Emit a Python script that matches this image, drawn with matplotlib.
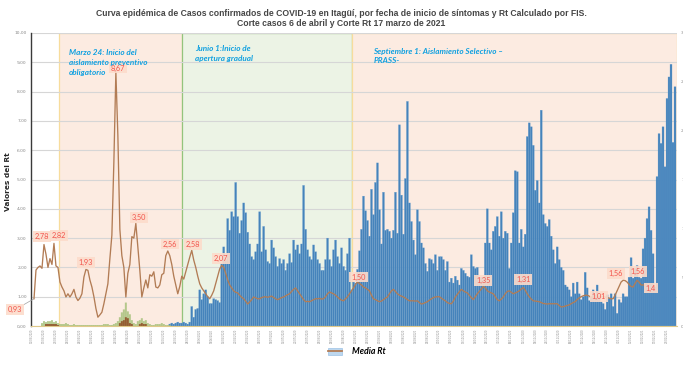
import numpy as np
import matplotlib
matplotlib.use("Agg")
import matplotlib.pyplot as plt
from matplotlib.patches import Patch
from matplotlib.lines import Line2D
from matplotlib.transforms import blended_transform_factory
import pandas as pd

# ---------------- DATA ----------------
fecha_inicio = "2020-03-11"          # day index 0
titulo_1 = ("Curva epidémica de Casos confirmados de COVID-19 en Itagüí, por fecha de inicio "
            "de síntomas y Rt Calculado por FIS.")
titulo_2 = "Corte casos 6 de abril y Corte Rt 17 marzo de 2021"

# phases (day index): Marzo 24, Junio 1, Septiembre 1, end
fase_limites = [13.5, 75, 160, 323]
fase_textos = ["Marzo 24: Inicio del\naislamiento preventivo\nobligatorio",
               "Junio 1:Inicio de\napertura gradual",
               "Septiembre 1: Aislamiento Selectivo –\nPRASS-"]

# daily confirmed cases (blue), starting at day 69
casos_dia0 = 69
casos = [2, 3, 2, 3, 4, 3, 3, 4, 3, 2, 4,
         20, 9, 17, 18, 37, 27, 33, 37, 30, 23,
         23, 28, 27, 26, 24, 64, 81, 68, 110, 98,
         117, 112, 147, 112, 95, 108, 126, 116, 96, 84,
         71, 68, 76, 84, 117, 76, 102, 78, 66, 64,
         88, 80, 71, 61, 69, 64, 68, 57, 64, 74,
         65, 88, 78, 83, 74, 84, 144, 99, 78, 71,
         68, 83, 76, 68, 64, 57, 57, 68, 90, 68,
         61, 78, 88, 71, 64, 80, 61, 57, 74, 90,
         37, 45, 44, 58, 77, 99, 133, 118, 108, 92,
         140, 114, 147, 167, 119, 84, 137, 98, 99, 97,
         90, 98, 137, 95, 206, 134, 94, 151, 230, 126,
         107, 88, 73, 119, 107, 85, 80, 64, 56, 69,
         68, 64, 73, 57, 71, 71, 68, 57, 66, 45,
         49, 44, 51, 47, 42, 59, 57, 54, 51, 50,
         73, 61, 59, 60, 49, 50, 50, 85, 120, 85,
         78, 97, 102, 112, 92, 117, 90, 97, 95, 59,
         85, 116, 159, 158, 85, 99, 81, 94, 194, 208,
         204, 185, 139, 149, 126, 221, 114, 105, 102, 109,
         92, 78, 64, 81, 68, 60, 57, 42, 40, 37,
         30, 44, 33, 45, 33, 27, 30, 55, 39, 26,
         30, 37, 32, 42, 30, 25, 23, 17, 32, 28,
         33, 20, 33, 13, 27, 24, 33, 30, 30, 50,
         70, 49, 59, 62, 50, 49, 79, 90, 110, 122,
         98, 74, 40, 153, 197, 187, 204, 163, 233, 255,
         268, 188, 245]

# early small series (green / brown), starting at day 5 and day 7
verde_dia0 = 5
casos_verde = [3, 5, 4, 5, 5, 6, 4, 5, 3, 2,
               2, 2, 3, 2, 1, 1, 2, 1, 1, 1,
               1, 1, 1, 1, 1, 1, 1, 1, 1, 1,
               1, 2, 2, 2, 1, 1, 2, 3, 5, 9,
               14, 17, 24, 15, 12, 6, 3, 2, 5, 6,
               8, 5, 6, 3, 2, 1, 1, 2, 2, 2,
               3, 2, 1, 1, 1]
marron_dia0 = 7
casos_marron = [2, 2, 2, 2, 2, 2, 1,
                0, 0, 0, 0, 0, 0, 0, 0, 0, 0, 0, 0, 0, 0, 0,
                0, 0, 0, 0, 0, 0, 0, 0, 0, 0, 0, 0, 0, 0, 0,
                3, 5, 6, 9, 8, 3, 2, 0, 0, 0, 2, 3, 2, 2]

# Rt (media) per day
rt_dia = [1, 2, 3, 4, 5, 6, 7, 8, 9, 10, 11, 12, 13, 14, 15, 16, 17, 18, 19, 20,
          21, 22, 23, 24, 25, 26, 27, 28, 29, 30, 31, 32, 33, 34, 35, 36, 37, 38, 39, 40,
          41, 42, 43, 44, 45, 46, 47, 48, 49, 50, 51, 52, 53, 54, 55, 56, 57, 58, 59, 60,
          61, 62, 63, 64, 65, 66, 67, 68, 69, 70, 71, 72, 73, 74, 75, 76, 77, 78, 79, 80,
          81, 82, 83, 84, 85, 86, 87, 88, 89, 90, 91, 92, 93, 94, 95, 96, 97, 98, 99, 100,
          101, 102, 103, 104, 105, 106, 107, 108, 109, 110, 111, 112, 113, 114, 115, 116, 117, 118, 119, 120,
          121, 122, 123, 124, 125, 126, 127, 128, 129, 130, 131, 132, 133, 134, 135, 136, 137, 138, 139, 140,
          141, 142, 143, 144, 145, 146, 147, 148, 149, 150, 151, 152, 153, 154, 155, 156, 157, 158, 159, 160,
          161, 162, 163, 164, 165, 166, 167, 168, 169, 170, 171, 172, 173, 174, 175, 176, 177, 178, 179, 180,
          181, 182, 183, 184, 185, 186, 187, 188, 189, 190, 191, 192, 193, 194, 195, 196, 197, 198, 199, 200,
          201, 202, 203, 204, 205, 206, 207, 208, 209, 210, 211, 212, 213, 214, 215, 216, 217, 218, 219, 220,
          221, 222, 223, 224, 225, 226, 227, 228, 229, 230, 231, 232, 233, 234, 235, 236, 237, 238, 239, 240,
          241, 242, 243, 244, 245, 246, 247, 248, 249, 250, 251, 252, 253, 254, 255, 256, 257, 258, 259, 260,
          261, 262, 263, 264, 265, 266, 267, 268, 269, 270, 271, 272, 273, 274, 275, 276, 277, 278, 279, 280,
          281, 282, 283, 284, 285, 286, 287, 288, 289, 290, 291, 292, 293, 294, 295, 296, 297, 298, 299, 300,
          301, 302, 303, 304, 305, 306, 307]
rt_valor = [0.93, 1.91, 2.0, 2.05, 1.97, 2.78, 2.45, 2.0, 2.3, 2.1,
            2.82, 2.05, 2.0, 1.5, 1.33, 1.2, 0.99, 1.1, 0.99, 1.1,
            1.25, 0.99, 0.87, 0.95, 1.1, 1.67, 1.93, 1.9, 1.57, 1.33,
            1.0, 0.6, 0.3, 0.38, 0.47, 0.76, 1.1, 1.44, 2.3, 3.1,
            5.6, 8.67, 6.5, 3.3, 2.4, 2.0, 0.99, 1.8, 2.1, 3.05,
            3.0, 3.5, 2.7, 1.9, 0.99, 1.3, 1.57, 1.3, 1.75, 1.7,
            1.85, 1.33, 1.3, 1.4, 1.75, 1.8, 2.4, 2.56, 2.4, 2.1,
            1.7, 1.4, 1.1, 1.35, 1.7, 1.6, 1.85, 2.1, 2.35, 2.58,
            2.25, 2.0, 1.7, 1.44, 1.3, 1.2, 1.1, 1.0, 0.93, 1.05,
            1.2, 1.45, 1.7, 1.95, 2.07, 2.0, 1.8, 1.57, 1.4, 1.3,
            1.2, 1.15, 1.13, 1.05, 0.98, 0.93, 0.85, 0.75, 0.82, 0.9,
            0.99, 0.96, 0.93, 0.93, 0.97, 0.99, 1.0, 0.98, 1.0, 1.02,
            0.97, 0.93, 0.9, 0.93, 0.97, 0.99, 1.03, 1.07, 1.1, 1.18,
            1.25, 1.3, 1.2, 1.1, 1.0, 0.9, 0.83, 0.84, 0.83, 0.86,
            0.9, 0.93, 0.93, 0.94, 0.92, 0.93, 1.0, 1.1, 1.16, 1.13,
            1.1, 1.05, 0.99, 0.93, 0.88, 0.86, 0.93, 1.0, 1.1, 1.2,
            1.3, 1.42, 1.5, 1.45, 1.4, 1.33, 1.3, 1.25, 1.2, 1.05,
            0.93, 0.9, 0.86, 0.83, 0.85, 0.9, 0.95, 0.99, 1.1, 1.2,
            1.25, 1.18, 1.1, 1.05, 1.02, 0.99, 0.95, 0.9, 0.86, 0.86,
            0.86, 0.85, 0.86, 0.8, 0.75, 0.77, 0.8, 0.83, 0.88, 0.93,
            0.97, 0.99, 1.0, 1.0, 0.95, 0.9, 0.86, 0.8, 0.77, 0.76,
            0.85, 0.99, 1.08, 1.17, 1.25, 1.2, 1.16, 1.13, 1.05, 0.97,
            0.9, 1.0, 1.1, 1.18, 1.26, 1.35, 1.3, 1.2, 1.16, 1.13,
            1.1, 1.0, 0.9, 0.86, 0.92, 0.99, 1.1, 1.18, 1.2, 1.15,
            1.1, 1.13, 1.16, 1.2, 1.26, 1.31, 1.22, 1.1, 1.0, 0.92,
            0.86, 0.85, 0.84, 0.83, 0.8, 0.77, 0.76, 0.75, 0.76, 0.76,
            0.76, 0.76, 0.76, 0.7, 0.65, 0.66, 0.68, 0.7, 0.72, 0.76,
            0.8, 0.83, 0.9, 0.96, 1.0, 1.03, 1.05, 1.05, 1.02, 0.99,
            0.99, 1.0, 1.01, 1.01, 1.01, 1.0, 0.99, 0.97, 0.95, 0.93,
            0.93, 1.05, 1.2, 1.35, 1.5, 1.56, 1.55, 1.5, 1.42, 1.35,
            1.33, 1.45, 1.56, 1.5, 1.4, 1.4, 1.4]

# labelled Rt points
etiqueta_dias = [1, 6, 11, 27, 42, 52, 68, 80, 95, 163, 226, 246, 284, 296, 303, 307]
etiqueta_textos = ["0,93", "2,78", "2,82", "1,93", "8,67", "3,50", "2,56", "2,58", "2,07",
                   "1,50", "1,35", "1,31", "1,01", "1,56", "1,56", "1,4"]
etiqueta_offsets = [(-19, -11), (-2, 8), (5, 8), (0, 7), (2, 4), (3, 6), (2, 7), (1, 6), (-1, 7),
                    (1, 5), (0, 6), (0, 8), (0, 0), (-7, 7), (1, 9), (6, -3)]

rt_ticks = list(range(0, 11))
casos_ticks = [0, 50, 100, 150, 200, 250, 300]

# ---------------- STYLE ----------------
COL_BAR = "#4583bb"
COL_RT = "#b27c55"
COL_VERDE = "#a3bf76"
COL_MARRON = "#8e4b22"
COL_ROSA = "#fcebe1"
COL_VERDE_FONDO = "#ecf3e5"
COL_NOTA = "#0fa0e0"
COL_ETQ = "#f2544c"
COL_ETQ_BG = "#fcdccb"
narrow = ["Liberation Sans Narrow", "Liberation Sans", "DejaVu Sans"]
nota_font = ["Lato", "DejaVu Sans"]

W, H = 683, 370
fig = plt.figure(figsize=(W / 100, H / 100), dpi=100)
ax = fig.add_axes([31 / W, 44 / H, 646 / W, 293 / H])
axc = ax.twinx()
ax.set_zorder(axc.get_zorder() + 1)
ax.patch.set_visible(False)

ax.set_xlim(-0.5, 323)
ax.set_ylim(0, 10)
axc.set_ylim(0, 300)

# shaded phases
fondos = [COL_ROSA, COL_VERDE_FONDO, COL_ROSA]
bordes = ["#f7dc9c", "#93c47d", "#f7dc9c"]
for k in range(3):
    axc.axvspan(fase_limites[k], fase_limites[k + 1], ymin=0, ymax=1,
                facecolor=fondos[k], edgecolor=bordes[k], lw=0.9, zorder=0.5)

# grid lines from left (Rt) ticks, drawn beneath bars
blend = blended_transform_factory(axc.transAxes, ax.transData)
for v in rt_ticks:
    axc.add_line(Line2D([0, 1], [v, v], transform=blend, color="#d6d6d6", lw=0.8, zorder=1))

# bars
x_casos = np.arange(casos_dia0, casos_dia0 + len(casos))
axc.bar(x_casos, casos, width=1.0, color=COL_BAR, edgecolor="#6fa3d0", lw=0.2,
        snap=False, zorder=2)
x_verde = np.arange(verde_dia0, verde_dia0 + len(casos_verde))
axc.bar(x_verde, casos_verde, width=1.0, color=COL_VERDE, alpha=0.8, lw=0, snap=False, zorder=2)
x_marron = np.arange(marron_dia0, marron_dia0 + len(casos_marron))
axc.bar(x_marron, casos_marron, width=1.0, color=COL_MARRON, alpha=0.85, lw=0, snap=False,
        zorder=2.1)

# Rt line
ax.plot(rt_dia, rt_valor, color=COL_RT, lw=0.95, zorder=5)

# labels
for d, t, off in zip(etiqueta_dias, etiqueta_textos, etiqueta_offsets):
    v = rt_valor[rt_dia.index(d)]
    kw = {}
    if t == "0,93":
        kw["arrowprops"] = dict(arrowstyle="-", color="#a0a0a0", lw=0.5, shrinkA=0, shrinkB=0)
    ax.annotate(t, xy=(d, v), xytext=off, textcoords="offset pixels",
                ha="center", va="center", fontsize=5.3, color=COL_ETQ,
                family=nota_font, annotation_clip=False, zorder=7,
                bbox=dict(boxstyle="square,pad=0.25", fc=COL_ETQ_BG, ec="none", alpha=0.9),
                **kw)

# phase notes
nota_pos = [(18.5, 9.45), (81.5, 9.58), (171, 9.5)]
for (xn, yn), t in zip(nota_pos, fase_textos):
    ax.text(xn, yn, t, ha="left", va="top", fontsize=5.9, color=COL_NOTA,
            style="italic", fontweight="bold", family=nota_font, linespacing=1.45, zorder=8)

# axes styling
for s in ["top", "right"]:
    ax.spines[s].set_visible(False)
    axc.spines[s].set_visible(False)
axc.spines["left"].set_visible(False)
axc.spines["bottom"].set_visible(False)
ax.spines["left"].set_color("#3a3a3a")
ax.spines["left"].set_linewidth(1.0)
ax.spines["bottom"].set_color("#e0c98a")
ax.spines["bottom"].set_linewidth(0.8)

ax.set_yticks(rt_ticks)
ax.set_yticklabels([f"{v:.2f}".replace(".", ",") for v in rt_ticks])
ax.tick_params(axis="y", length=0, labelsize=3.2, labelcolor="#8a8a8a", pad=3)
axc.set_yticks(casos_ticks)
axc.set_yticklabels([str(v) for v in casos_ticks])
axc.tick_params(axis="y", length=0, labelsize=3.2, labelcolor="#8a8a8a", pad=3)

fechas = pd.date_range(fecha_inicio, periods=324, freq="D")
xt = list(range(0, 323, 6))
ax.set_xticks(xt)
ax.set_xticklabels([fechas[i].strftime("%d/%m/%Y") for i in xt], rotation=90)
ax.tick_params(axis="x", length=0, labelsize=1.8, labelcolor="#8a8a8a", pad=2)
axc.tick_params(axis="x", length=0)

# titles and labels
fig.text(0.5, 1 - 13 / H, titulo_1, ha="center", va="center", fontsize=6.2,
         fontweight="bold", color="#454545", family=narrow)
fig.text(0.5, 1 - 24 / H, titulo_2, ha="center", va="center", fontsize=6.2,
         fontweight="bold", color="#454545", family=narrow)
fig.text(8 / W, 1 - 182 / H, "Valores del Rt", rotation=90, ha="center", va="center",
         fontsize=5.3, fontweight="bold", color="#262626")

# legend
h = (Patch(facecolor="#bdd7ee", edgecolor="#9dc3e6", lw=0.5),
     Line2D([], [], color=COL_RT, lw=1.3))
fig.legend([h], ["Media Rt"], loc="center", bbox_to_anchor=(357 / W, 1 - 352 / H),
           frameon=False, handlelength=1.6, handletextpad=1.2,
           prop=dict(size=6.3, style="italic", weight="bold", family=nota_font))

fig.savefig("out.png", dpi=100, facecolor="white")
